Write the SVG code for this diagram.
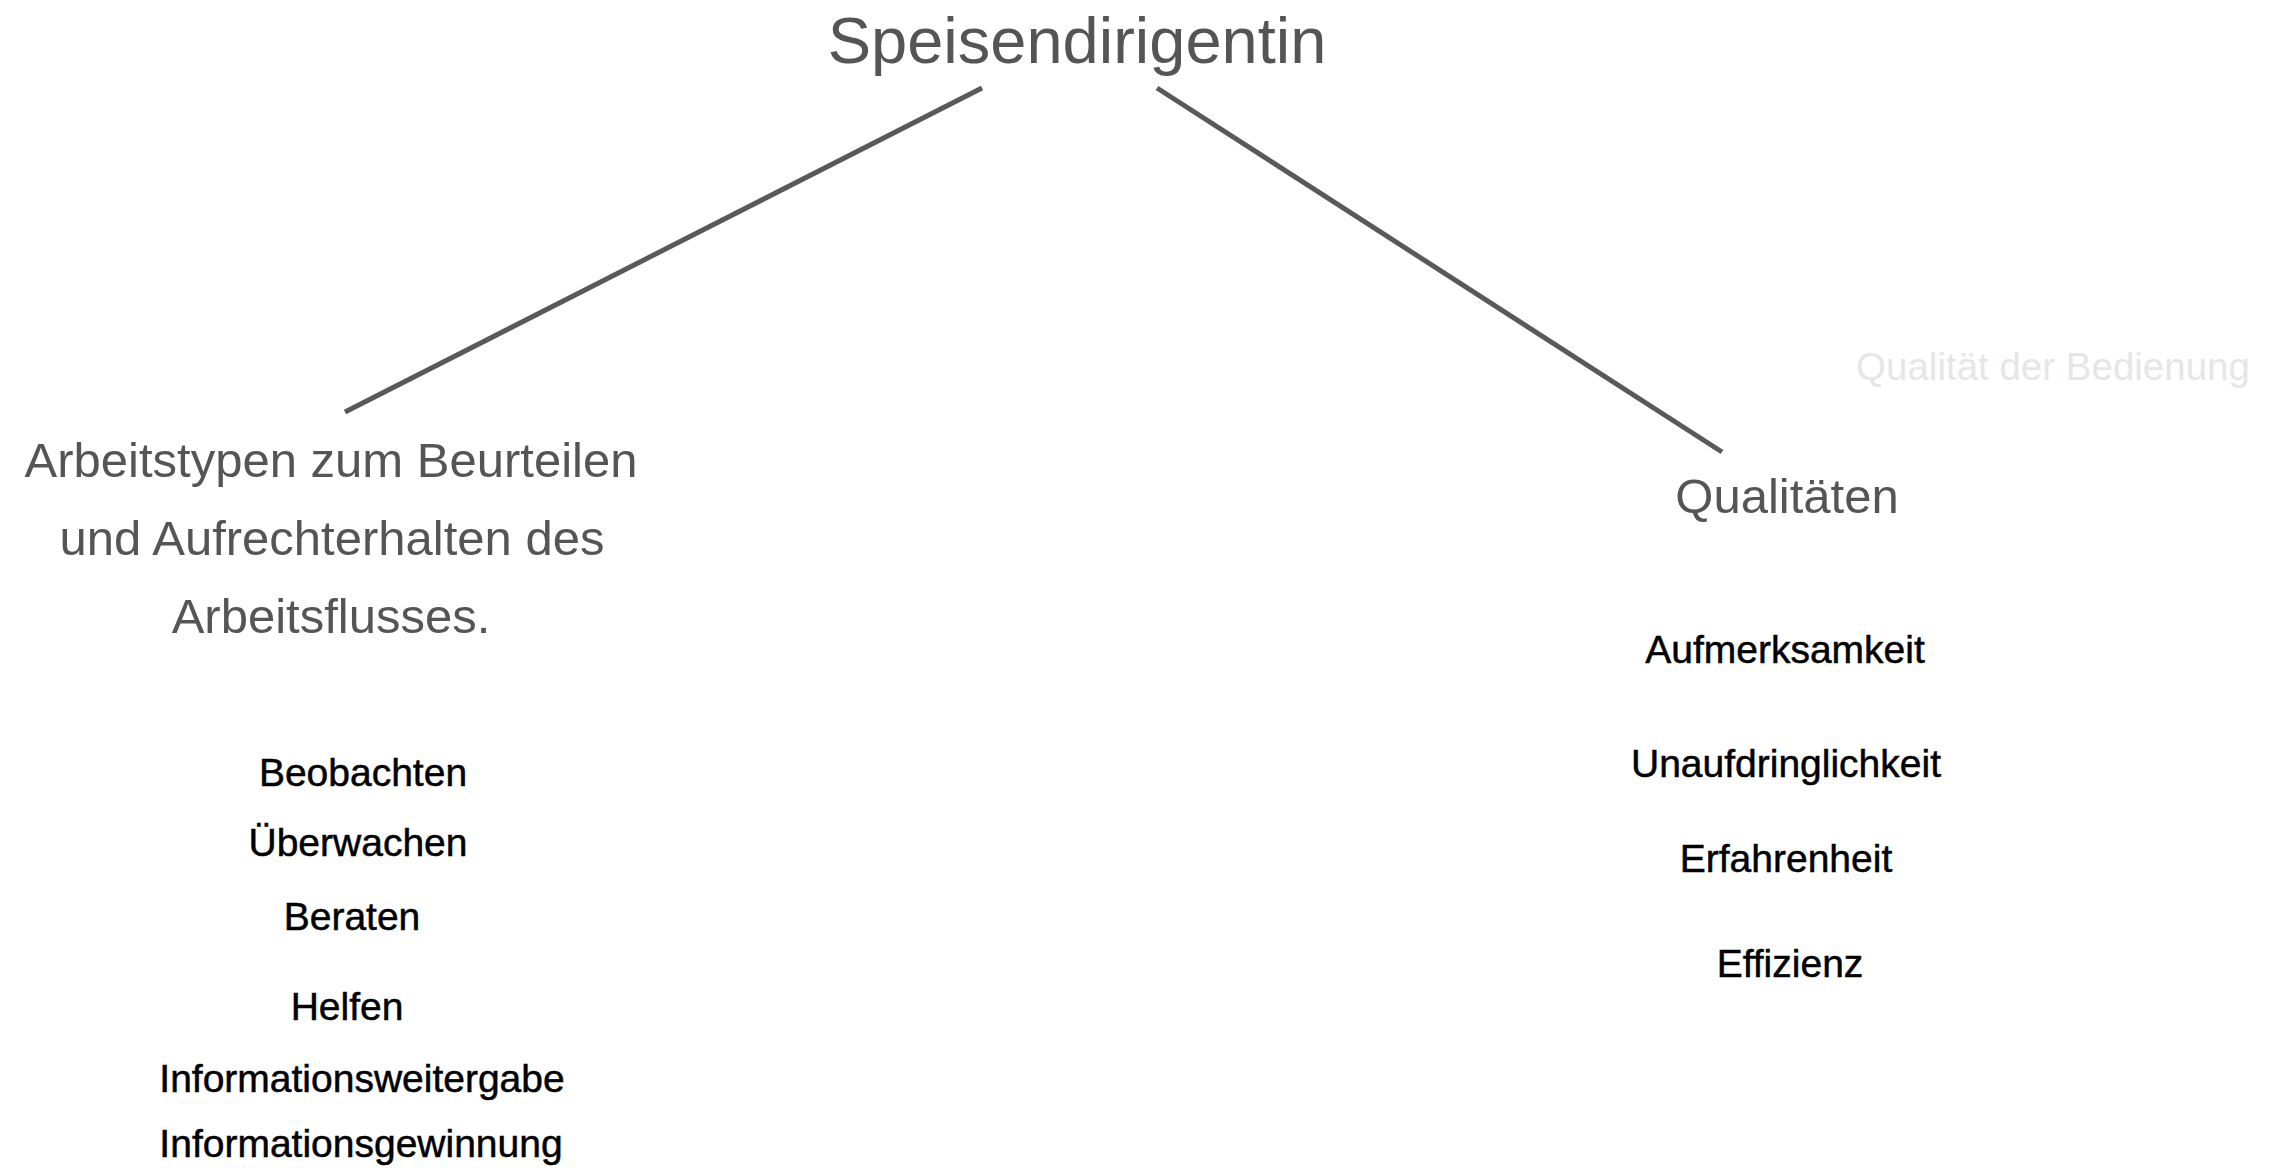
<svg xmlns="http://www.w3.org/2000/svg" width="2285" height="1168" viewBox="0 0 2285 1168">
  <style>
    .t { font-family: "Liberation Sans", Arial, sans-serif; text-anchor: middle; fill: #555555; }
    .title { font-size: 65px; }
    .head { font-size: 49px; }
    .item { font-family: "Liberation Sans", Arial, sans-serif; text-anchor: middle; fill: #000000; stroke: #000000; stroke-width: 0.5px; font-size: 39px; }
    .ghost { font-size: 38.5px; fill: #e6e6e6; }
    .edge { stroke: #595959; stroke-width: 5; fill: none; stroke-linecap: butt; }
  </style>
  <rect width="2285" height="1168" fill="#ffffff"/>
  <g id="connectors">
    <line class="edge" x1="982" y1="88" x2="345" y2="412"/>
    <line class="edge" x1="1157" y1="88" x2="1722" y2="452"/>
  </g>
  <g id="root">
    <text class="t title" x="1077" y="63">Speisendirigentin</text>
  </g>
  <g id="arbeitstypen">
    <text class="t head" x="331" y="477">Arbeitstypen zum Beurteilen</text>
    <text class="t head" x="332" y="555">und Aufrechterhalten des</text>
    <text class="t head" x="331" y="633">Arbeitsflusses.</text>
  </g>
  <g id="qualitaeten">
    <text class="t head" x="1787" y="513">Qualitäten</text>
  </g>
  <g id="qualitaet-bedienung">
    <text class="t ghost" x="2053" y="380">Qualität der Bedienung</text>
  </g>
  <g id="arbeitstypen-liste">
    <text class="item" x="363" y="786">Beobachten</text>
    <text class="item" x="358" y="856">Überwachen</text>
    <text class="item" x="352" y="930">Beraten</text>
    <text class="item" x="347" y="1020">Helfen</text>
    <text class="item" x="362" y="1092">Informationsweitergabe</text>
    <text class="item" x="361" y="1157">Informationsgewinnung</text>
  </g>
  <g id="qualitaeten-liste">
    <text class="item" x="1785" y="663">Aufmerksamkeit</text>
    <text class="item" x="1786" y="777">Unaufdringlichkeit</text>
    <text class="item" x="1786" y="872">Erfahrenheit</text>
    <text class="item" x="1790" y="977">Effizienz</text>
  </g>
</svg>
